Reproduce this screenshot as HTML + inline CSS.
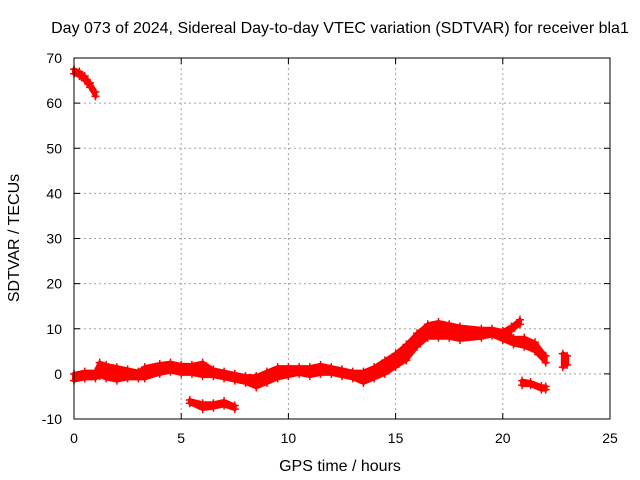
<!DOCTYPE html>
<html><head><meta charset="utf-8"><style>
html,body{margin:0;padding:0;background:#fff;}
svg{display:block;font-family:"Liberation Sans",sans-serif;}
</style></head><body>
<svg id="chart" width="640" height="480" viewBox="0 0 640 480">
<rect width="640" height="480" fill="#fff"/>
<text x="340" y="33" font-size="16" text-anchor="middle">Day 073 of 2024, Sidereal Day-to-day VTEC variation (SDTVAR) for receiver bla1</text>
<text x="340" y="471" font-size="16" text-anchor="middle">GPS time / hours</text>
<text transform="translate(19,238) rotate(-90)" font-size="16" text-anchor="middle">SDTVAR / TECUs</text>
<g id="grid"></g><g id="ticks"></g><g id="data"></g>
<rect x="74" y="58" width="536" height="361" fill="none" stroke="#000" stroke-width="1"/>
</svg>
<script>
const xTicks=[0,5,10,15,20,25];
const yTicks=[-10,0,10,20,30,40,50,60,70];
// segments: times, lower and upper envelope values (TECU)
const segATimes=[0,0.25,0.5,0.75,1.0];
const segALo=[66.5,66,65,63.5,61.5];
const segAHi=[67.5,67,66,64.5,62.5];
const mainTimes=[0,0.5,1.0,1.2,1.5,2,2.5,3,3.3,4,4.5,5,5.5,6,6.5,7,7.5,8,8.5,9,9.5,10,10.5,11,11.5,12,12.5,13,13.5,14,14.5,15,15.5,16,16.5,17,17.5,18,19,19.5,20,20.5,21,21.5,22];
const mainLo=[-1.5,-1,-1,-0.5,-1,-1.5,-1,-1,-1,0,0.5,0,0,-0.5,-0.5,-1,-1.5,-2,-3,-2,-1,-0.5,0,-0.5,0,0,-0.5,-1,-2,-1,0,1.5,3,6,8,8,8,7.5,8,8.5,7.5,6.5,6,5,2.5];
const mainHi=[0,0.5,0.5,2.5,2,1.5,1,0.5,1.5,2.2,2.5,2,2,2.5,1,0.5,0,-0.5,-0.5,0.5,1.5,1.5,1.5,1.5,2,1.5,1,0.5,0.5,1.5,3,4.5,6.5,9,11,11.5,11,10.5,10,10,9.5,8,8,7,4];
const upperTimes=[20,20.4,20.8];
const upperLo=[8.5,9.5,11];
const upperHi=[9.5,10.5,12];
const segCTimes=[5.4,6,6.5,7,7.5];
const segCLo=[-6.5,-7.8,-7.5,-7,-7.8];
const segCHi=[-5.8,-6.5,-6.5,-6,-7];
const segDTimes=[20.9,21.3,21.8,22];
const segDLo=[-2.5,-2.5,-3.5,-3.5];
const segDHi=[-1.5,-1.8,-2.7,-2.8];
const segETimes=[22.8,22.9,23];
const segELo=[1.5,2,2];
const segEHi=[4.5,4,4];

const X=t=>74+t*536/25;
const Y=v=>58+(70-v)*361/80;
const NS="http://www.w3.org/2000/svg";
function mk(tag,attrs,parent){const e=document.createElementNS(NS,tag);for(const k in attrs)e.setAttribute(k,attrs[k]);parent.appendChild(e);return e;}
const grid=document.getElementById('grid'),ticks=document.getElementById('ticks'),data=document.getElementById('data');
xTicks.forEach(t=>{
  if(t>0&&t<25){const g=mk('line',{x1:X(t),x2:X(t),y1:58,y2:419,stroke:'#a0a0a0','stroke-dasharray':'2,3'},grid);
  
  }
  mk('line',{x1:X(t),x2:X(t),y1:419,y2:413,stroke:'#000'},ticks);
  mk('line',{x1:X(t),x2:X(t),y1:58,y2:64,stroke:'#000'},ticks);
  const l=mk('text',{x:X(t),y:443,'font-size':14,'text-anchor':'middle'},ticks);l.textContent=t;
  
  
});
yTicks.forEach(v=>{
  if(v>-10&&v<70){const g=mk('line',{x1:74,x2:610,y1:Y(v),y2:Y(v),stroke:'#a0a0a0','stroke-dasharray':'2,3'},grid);
  
  }
  mk('line',{x1:74,x2:80,y1:Y(v),y2:Y(v),stroke:'#000'},ticks);
  mk('line',{x1:604,x2:610,y1:Y(v),y2:Y(v),stroke:'#000'},ticks);
  const l=mk('text',{x:62,y:Y(v)+5,'font-size':14,'text-anchor':'end'},ticks);l.textContent=v;
  
  
});
function band(ts,lo,hi,name){
  const g=mk('g',{},data);
  
  
  let pts=ts.map((t,i)=>X(t)+','+Y(hi[i]));
  pts=pts.concat(ts.map((t,i)=>X(t)+','+Y(lo[i])).reverse());
  mk('polygon',{points:pts.join(' '),fill:'#ff0000',stroke:'#ff0000','stroke-width':4,'stroke-linejoin':'round'},g);
  ts.forEach((t,i)=>{[lo[i],hi[i]].forEach(v=>{
    const x=X(t),y=Y(v);
    mk('path',{d:`M${x-4},${y}H${x+4}M${x},${y-4}V${y+4}`,stroke:'#ff0000','stroke-width':1.5},g);
  });});
}
band(segATimes,segALo,segAHi,'series-early-high');
band(mainTimes,mainLo,mainHi,'series-main');
band(upperTimes,upperLo,upperHi,'series-upper-branch');
band(segCTimes,segCLo,segCHi,'series-low-branch');
band(segDTimes,segDLo,segDHi,'series-late-low');
band(segETimes,segELo,segEHi,'series-end');
</script>
</body></html>
